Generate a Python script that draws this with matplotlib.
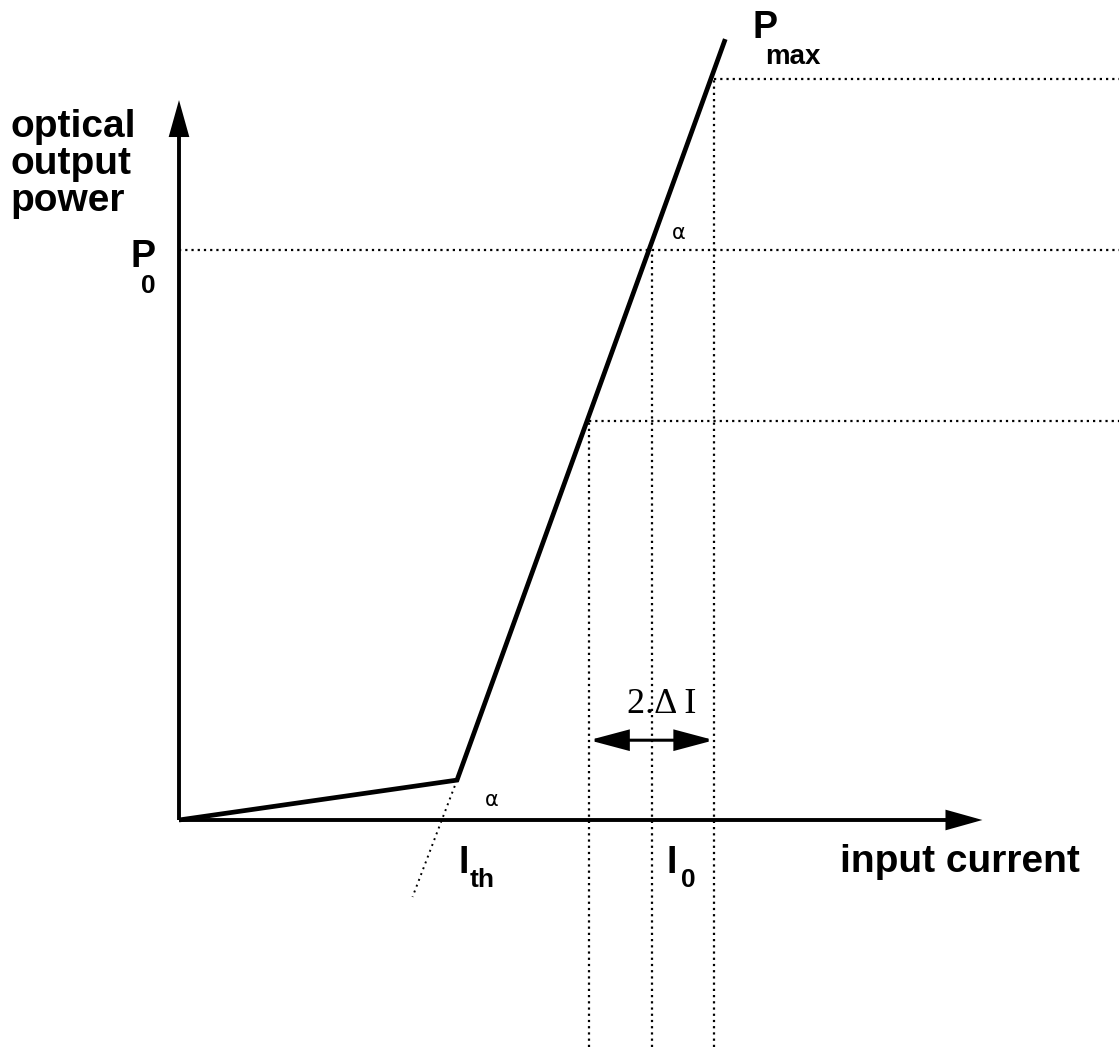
import matplotlib
matplotlib.use("Agg")
import matplotlib.pyplot as plt
from matplotlib.patches import FancyArrowPatch

# Laser diode light-current characteristic (arbitrary units)
curve_current = [0.0, 20.0, 39.3]      # origin, threshold knee, end of lasing line
curve_power = [0.0, 0.7, 13.7]
tangent_current = [20.0, 16.8]         # lasing slope extended below the axis
tangent_power = [0.7, -1.35]
bias_current = [29.5, 34.0, 38.5]      # I0 - dI, I0, I0 + dI
bias_power = [7.0, 10.0, 13.0]         # matching optical powers (P0 in the middle, Pmax on top)
axis_current_end = 57.8
axis_power_end = 12.63
swing_level = 1.4                      # height of the 2.dI arrow

I_TH = curve_current[1]
I0 = bias_current[1]
P0 = bias_power[1]
PMAX = bias_power[2]

DPI = 100
W_PX, H_PX = 1119, 1047
X_SCALE, Y_SCALE = 13.9, 57.0          # pixels per unit
ORIGIN_PX = (179, 820)

fig = plt.figure(figsize=(W_PX / DPI, H_PX / DPI), dpi=DPI)
ax = fig.add_axes([0, 0, 1, 1])
ax.set_xlim(-ORIGIN_PX[0] / X_SCALE, (W_PX - ORIGIN_PX[0]) / X_SCALE)
ax.set_ylim(-(H_PX - ORIGIN_PX[1]) / Y_SCALE, ORIGIN_PX[1] / Y_SCALE)
ax.axis("off")

xmin, xmax = ax.get_xlim()
ymin, ymax = ax.get_ylim()

dot = dict(color="black", lw=1.6, linestyle=(0, (1, 1.8)))

# guide lines from the bias points
ax.hlines(bias_power[0], bias_current[0], xmax, **dot)
ax.hlines(P0, 0, xmax, **dot)
ax.hlines(PMAX, bias_current[2], xmax, **dot)
for c, p in zip(bias_current, bias_power):
    ax.vlines(c, ymin, p, **dot)
ax.plot(tangent_current, tangent_power, color="black", lw=1.4, linestyle=(0, (1, 2.2)))


def arrow(start, end, style, lw):
    ax.add_patch(FancyArrowPatch(start, end, arrowstyle=style, mutation_scale=20, lw=lw,
                                 color="black", shrinkA=0, shrinkB=0, joinstyle="miter",
                                 capstyle="butt"))


# axes with arrow heads
axis_style = "-|>,head_length=1.0,head_width=0.28"
arrow((0, 0), (axis_current_end, 0), axis_style, 2.8)
arrow((0, 0), (0, axis_power_end), axis_style, 2.8)

# characteristic
ax.plot(curve_current, curve_power, color="black", lw=3.4, solid_capstyle="butt",
        solid_joinstyle="miter")

# 2.dI swing arrow
arrow((bias_current[0], swing_level), (bias_current[2], swing_level),
      "<|-|>,head_length=1.2,head_width=0.32", 2.2)

SANS = dict(family="Liberation Sans", fontweight="bold", color="black")


def label(text, x, y, dx_px, dy_px, size, ha="left", va="baseline", **kw):
    style = dict(SANS)
    style.update(kw)
    ax.annotate(text, xy=(x, y), xytext=(dx_px * 0.72, -dy_px * 0.72),
                textcoords="offset points", fontsize=size, ha=ha, va=va, **style)


# axis titles
label("optical", 0, axis_power_end, -169, 37, 28)
label("output", 0, axis_power_end, -169, 74, 28)
label("power", 0, axis_power_end, -169, 111, 28)
label("input current", axis_current_end, 0, -142, 52, 28)

# power markers
label("P", 0, P0, -24, 17, 27, ha="right")
label("0", 0, P0, -31, 43, 19, ha="center")
label("P", bias_current[2], PMAX, 38, -41, 27)
label("max", bias_current[2], PMAX, 51, -15, 20)

# current markers
label("I", I_TH, 0, 7, 53, 27, ha="center")
label("th", I_TH, 0, 13, 67, 19)
label("I", I0, 0, 20, 53, 27, ha="center")
label("0", I0, 0, 29, 67, 19)

# slope angles
label("\u03b1", I0, P0, 27, -11, 15, ha="center", family="DejaVu Sans", fontweight="normal")
label("\u03b1", I_TH, curve_power[1], 35, 26, 15, ha="center", family="DejaVu Sans",
      fontweight="normal")

# swing label
label("2.\u0394 I", I0, swing_level, 10, -27, 26, ha="center", family="Liberation Serif",
      fontweight="normal")

fig.savefig("out.png", dpi=DPI, facecolor="white")
